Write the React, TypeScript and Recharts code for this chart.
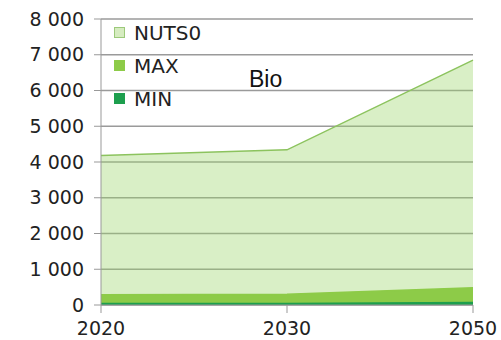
import { AreaChart, Area, XAxis, YAxis, CartesianGrid } from "recharts";

const years = ["2020", "2030", "2050"];
const nuts0 = [4180, 4340, 6850];
const maxVals = [290, 300, 480];
const minVals = [45, 45, 70];
const yTicks = [0, 1000, 2000, 3000, 4000, 5000, 6000, 7000, 8000];

const data = years.map((year, i) => ({
  year,
  NUTS0: nuts0[i],
  MAX: maxVals[i],
  MIN: minVals[i],
}));

const series = [
  { key: "NUTS0", fill: "#9bd46a", stroke: "#8cc35e", opacity: 0.38, swatch: "#d6ecc0", border: "#9cc97a" },
  { key: "MAX", fill: "#8dcb48", stroke: "#8dcb48", opacity: 1, swatch: "#8dcb48", border: "#8dcb48" },
  { key: "MIN", fill: "#1d9f4e", stroke: "#1d9f4e", opacity: 1, swatch: "#1d9f4e", border: "#1d9f4e" },
];

const font = "'DejaVu Sans', Verdana, sans-serif";

const fmt = (v: number) => (v >= 1000 ? `${Math.floor(v / 1000)} ${String(v % 1000).padStart(3, "0")}` : String(v));

function LegendBox() {
  return (
    <div style={{ position: "absolute", left: 114, top: 16, fontFamily: font, fontSize: 20, color: "#222" }}>
      {series.map((s) => (
        <div key={s.key} style={{ display: "flex", alignItems: "center", height: 33 }}>
          <span
            style={{
              display: "inline-block",
              width: 9,
              height: 9,
              background: s.swatch,
              border: `1px solid ${s.border}`,
              marginRight: 9,
            }}
          />
          {s.key}
        </div>
      ))}
    </div>
  );
}

export default function App() {
  return (
    <div style={{ position: "absolute", left: 0, top: 0, width: 501, height: 340, background: "#fff" }}>
      <AreaChart width={501} height={340} data={data} margin={{ top: 19, right: 28, bottom: 0, left: 0 }}>
        <CartesianGrid vertical={false} stroke="#9a9a9a" strokeWidth={1.5} />
        <XAxis
          dataKey="year"
          stroke="#999"
          tickLine={{ stroke: "#999" }}
          tickSize={8}
          tickMargin={9}
          tick={{ fill: "#222", fontSize: 19, fontFamily: font }}
          interval={0}
          height={35}
        />
        <YAxis
          width={101}
          domain={[0, 8000]}
          ticks={yTicks}
          tickFormatter={fmt}
          stroke="#999"
          tickSize={7}
          tickMargin={10}
          tick={{ fill: "#222", fontSize: 19, fontFamily: font }}
          interval={0}
        />
        {series.map((s) => (
          <Area
            key={s.key}
            type="linear"
            dataKey={s.key}
            fill={s.fill}
            fillOpacity={s.opacity}
            stroke={s.stroke}
            strokeWidth={1.5}
            isAnimationActive={false}
          />
        ))}
      </AreaChart>
      <LegendBox />
      <div
        style={{
          position: "absolute",
          left: 249,
          top: 66,
          fontFamily: "'Liberation Sans', Arial, sans-serif",
          fontSize: 23,
          color: "#111",
        }}
      >
        Bio
      </div>
    </div>
  );
}
